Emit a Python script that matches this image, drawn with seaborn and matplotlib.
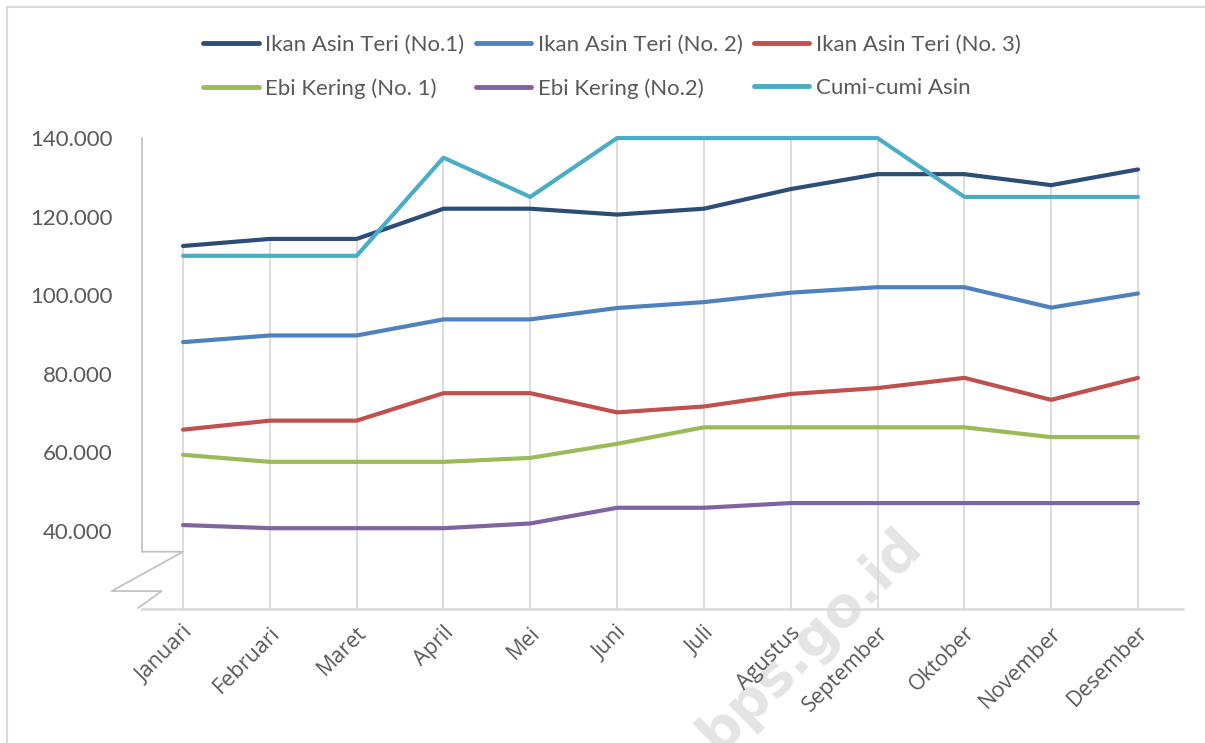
import numpy as np
import pandas as pd
import matplotlib
matplotlib.use("Agg")
import matplotlib.pyplot as plt
import matplotlib.transforms as mtrans
from matplotlib.lines import Line2D
from matplotlib.ticker import FuncFormatter
import seaborn as sns

# ---- data ----
months = ["Januari", "Februari", "Maret", "April", "Mei", "Juni", "Juli",
          "Agustus", "September", "Oktober", "November", "Desember"]
series_names = ["Ikan Asin Teri (No.1)", "Ikan Asin Teri (No. 2)", "Ikan Asin Teri (No. 3)",
                "Ebi Kering (No. 1)", "Ebi Kering (No.2)", "Cumi-cumi Asin"]
teri_1 = [112500, 114300, 114300, 122000, 122000, 120500, 122000, 127000, 130800, 130800, 128000, 132000]
teri_2 = [88000, 89700, 89700, 93800, 93800, 96700, 98200, 100600, 102000, 102000, 96800, 100400]
teri_3 = [65700, 68000, 68000, 75000, 75000, 70100, 71600, 74800, 76300, 78900, 73300, 78900]
ebi_1 = [59300, 57500, 57500, 57500, 58500, 62100, 66300, 66300, 66300, 66300, 63800, 63800]
ebi_2 = [41400, 40600, 40600, 40600, 41800, 45800, 45800, 47000, 47000, 47000, 47000, 47000]
cumi = [110000, 110000, 110000, 135000, 125000, 140000, 140000, 140000, 140000, 125000, 125000, 125000]
colors = ["#2C4D75", "#4F81BD", "#C0504D", "#9BBB59", "#8064A2", "#4BACC6"]
y_ticks = [40000, 60000, 80000, 100000, 120000, 140000]

all_values = [teri_1, teri_2, teri_3, ebi_1, ebi_2, cumi]
df = pd.DataFrame({
    "Bulan": months * len(series_names),
    "Harga": np.concatenate(all_values),
    "Komoditas": np.repeat(series_names, len(months)),
})

sns.set_style("white")
plt.rcParams["font.family"] = ["Open Sans", "DejaVu Sans"]

fig = plt.figure(figsize=(12.05, 7.43), dpi=100)
ax = fig.add_axes([0.1176, 0.1803, 0.8641, 0.6339])
ax.set_facecolor("none")

sns.lineplot(data=df, x="Bulan", y="Harga", hue="Komoditas", palette=colors,
             linewidth=3, sort=False, legend=False, ax=ax, zorder=3)
for ln in ax.get_lines():
    ln.set_clip_on(False)
    ln.set_solid_capstyle("round")

ax.set_ylim(20000, 140000)
ax.set_xlim(-0.476, 11.518)

# drop lines from the highest point of each month to the category axis
top = np.max(np.array(all_values), axis=0)
ax.vlines(range(len(months)), 20000, top, color="#d9d9d9", linewidth=1.3, zorder=1)

for s in ["top", "right"]:
    ax.spines[s].set_visible(False)
ax.spines["left"].set_bounds(35000, 140000)
ax.spines["left"].set_color("#bfbfbf")
ax.spines["left"].set_linewidth(1.2)
ax.spines["bottom"].set_color("#d9d9d9")
ax.spines["bottom"].set_linewidth(1.8)

# axis break mark
brk_x = [0, 0.0397, -0.0288, 0.0192, -0.0036]
brk_y = [0.1217, 0.1217, 0.0382, 0.0382, 0.002]
ax.plot(brk_x, brk_y, color="#bfbfbf", linewidth=1.2, transform=ax.transAxes, clip_on=False)

ax.set_yticks(y_ticks)
ax.yaxis.set_major_formatter(FuncFormatter(lambda v, p: f"{v:,.0f}".replace(",", ".")))
ax.tick_params(axis="y", length=0, pad=21, labelsize=16, labelcolor="#595959")
for t in ax.get_yticklabels():
    t.set_fontfamily(["Lato", "DejaVu Sans"])
ax.tick_params(axis="x", length=0, pad=15, labelsize=15.5, labelcolor="#595959")
shift = mtrans.ScaledTranslation(7 / 100, 0, fig.dpi_scale_trans)
for t in ax.get_xticklabels():
    t.set_rotation(45)
    t.set_ha("right")
    t.set_va("center")
    t.set_rotation_mode("anchor")
    t.set_transform(t.get_transform() + shift)
ax.set_xlabel("")
ax.set_ylabel("")

# legend, ordered row by row like the original
order = [0, 3, 1, 4, 2, 5]
handles = [Line2D([], [], color=colors[i], linewidth=3.5) for i in order]
labels = [series_names[i] for i in order]
fig.legend(handles, labels, loc="center", bbox_to_anchor=(0.508, 0.91), ncol=3,
           frameon=False, handlelength=2.5, handletextpad=0.3,
           columnspacing=0.5, labelspacing=1.05, labelcolor="#595959",
           prop={"family": ["Lato", "DejaVu Sans"], "size": 16})

# chart-area border and watermark
fig.add_artist(Line2D([0.0058, 1.0], [0.9906, 0.9906], color="#d9d9d9", linewidth=1.5))
fig.add_artist(Line2D([0.0058, 0.0058], [0.0, 0.9906], color="#d9d9d9", linewidth=1.5))
fig.text(0.672, 0.139, "bps.go.id", rotation=45, fontsize=40, fontweight="bold",
         color="#e4e4e4", ha="center", va="center", zorder=-1,
         family=["DejaVu Sans"])

fig.savefig("out.png", dpi=100)
